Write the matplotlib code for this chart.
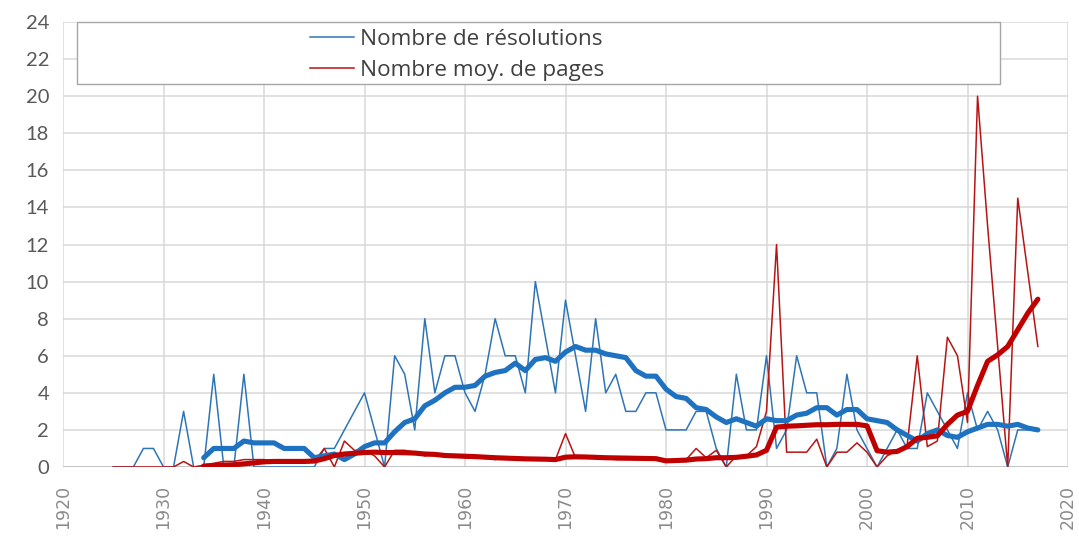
import matplotlib
matplotlib.use("Agg")
import matplotlib.pyplot as plt
from matplotlib.patches import Rectangle

# annual values, 1925-2017
years = list(range(1925, 2018))
resolutions = [0, 0, 0, 1, 1, 0, 0, 3, 0, 0,
               5, 0, 0, 5, 0, 0, 0, 0, 0, 0,
               0, 1, 1, 2, 3, 4, 2, 0, 6, 5,
               2, 8, 4, 6, 6, 4, 3, 5, 8, 6,
               6, 4, 10, 7, 4, 9, 6, 3, 8, 4,
               5, 3, 3, 4, 4, 2, 2, 2, 3, 3,
               1, 0, 5, 2, 2, 6, 1, 2, 6, 4,
               4, 0, 1, 5, 2, 1, 0, 1, 2, 1,
               1, 4, 3, 2, 1, 4, 2, 3, 2, 0,
               2, 2, 2]
pages = [0, 0, 0, 0, 0, 0, 0, 0.3, 0, 0.1,
         0.2, 0.3, 0.3, 0.4, 0.4, 0.4, 0.3, 0.3, 0.3, 0.3,
         0.3, 1.0, 0.0, 1.4, 0.9, 0.9, 0.6, 0.0, 0.9, 0.9,
         0.8, 0.6, 0.7, 0.6, 0.6, 0.5, 0.5, 0.5, 0.4, 0.5,
         0.5, 0.4, 0.4, 0.4, 0.4, 1.8, 0.5, 0.5, 0.5, 0.5,
         0.4, 0.4, 0.4, 0.4, 0.5, 0.3, 0.4, 0.4, 1.0, 0.5,
         0.9, 0.0, 0.6, 0.6, 1.1, 3.0, 12.0, 0.8, 0.8, 0.8,
         1.5, 0.0, 0.8, 0.8, 1.3, 0.8, 0.0, 0.6, 0.9, 1.2,
         6.0, 1.1, 1.4, 7.0, 6.0, 2.4, 20.0, 13.0, 6.5, 0.0,
         14.5, 10.5, 6.5]

# 10-year moving average trendlines, 1934-2017
ma_years = list(range(1934, 2018))
resolutions_ma = [0.5, 1.0, 1.0, 1.0, 1.4, 1.3, 1.3, 1.3, 1.0, 1.0,
                  1.0, 0.5, 0.6, 0.7, 0.4, 0.7, 1.1, 1.3, 1.3, 1.9,
                  2.4, 2.6, 3.3, 3.6, 4.0, 4.3, 4.3, 4.4, 4.9, 5.1,
                  5.2, 5.6, 5.2, 5.8, 5.9, 5.7, 6.2, 6.5, 6.3, 6.3,
                  6.1, 6.0, 5.9, 5.2, 4.9, 4.9, 4.2, 3.8, 3.7, 3.2,
                  3.1, 2.7, 2.4, 2.6, 2.4, 2.2, 2.6, 2.5, 2.5, 2.8,
                  2.9, 3.2, 3.2, 2.8, 3.1, 3.1, 2.6, 2.5, 2.4, 2.0,
                  1.7, 1.4, 1.8, 2.0, 1.7, 1.6, 1.9, 2.1, 2.3, 2.3,
                  2.2, 2.3, 2.1, 2.0]
pages_ma = [0.05, 0.08, 0.1, 0.12, 0.17, 0.22, 0.28, 0.3, 0.3, 0.3,
            0.3, 0.32, 0.45, 0.62, 0.7, 0.74, 0.78, 0.8, 0.78, 0.78,
            0.77, 0.75, 0.7, 0.68, 0.62, 0.6, 0.58, 0.56, 0.53, 0.5,
            0.48, 0.46, 0.44, 0.43, 0.42, 0.4, 0.53, 0.55, 0.54, 0.52,
            0.5, 0.49, 0.48, 0.47, 0.46, 0.45, 0.33, 0.35, 0.37, 0.43,
            0.45, 0.5, 0.5, 0.52, 0.58, 0.65, 0.9, 2.15, 2.2, 2.22,
            2.25, 2.28, 2.28, 2.3, 2.3, 2.3, 2.22, 0.88, 0.8, 0.84,
            1.1, 1.55, 1.6, 1.68, 2.3, 2.8, 3.0, 4.4, 5.7, 6.05,
            6.5, 7.4, 8.3, 9.05]

labels = ["Nombre de résolutions", "Nombre moy. de pages"]

blue = "#2e75b6"
blue_thick = "#1f72bf"
red = "#b81414"
red_thick = "#c00000"

fig = plt.figure(figsize=(10.79, 5.37), dpi=100)
ax = fig.add_axes([63 / 1079, 1 - 467 / 537, 1005 / 1079, 445 / 537])

l1, = ax.plot(years, resolutions, color=blue, lw=1.1, zorder=3)
l2, = ax.plot(years, pages, color=red, lw=1.1, zorder=4)
ax.plot(ma_years, resolutions_ma, color=blue_thick, lw=3.7, zorder=5,
        solid_capstyle="round", solid_joinstyle="round")
ax.plot(ma_years, pages_ma, color=red_thick, lw=3.7, zorder=6,
        solid_capstyle="round", solid_joinstyle="round")

ax.set_xlim(1920, 2020)
ax.set_ylim(0, 24)
ax.set_xticks(range(1920, 2021, 10))
ax.set_yticks(range(0, 25, 2))
ax.grid(True, color="#d9d9d9", lw=1.1, zorder=0)
ax.set_axisbelow(True)
for s in ax.spines.values():
    s.set_visible(False)
ax.axhline(0, color="#bfbfbf", lw=1.2, zorder=1)

ax.tick_params(axis="both", length=0)
ax.tick_params(axis="y", pad=10, labelsize=14.5, labelcolor="#595959")
ax.tick_params(axis="x", pad=13, labelsize=12.5, labelcolor="#8a8a8a",
               labelrotation=90)
for t in ax.get_yticklabels():
    t.set_fontfamily("Lato")
for t in ax.get_xticklabels():
    t.set_fontfamily("DejaVu Sans")

# legend box
ax.add_patch(Rectangle((14 / 1005, (467 - 84) / 445), 923 / 1005, 62 / 445,
                       transform=ax.transAxes, facecolor="white",
                       edgecolor="#a6a6a6", lw=1.0, zorder=10, clip_on=False))
leg = ax.legend([l1, l2], labels, loc="upper left",
                bbox_to_anchor=(310 / 1079, 1 - 29 / 537),
                bbox_transform=fig.transFigure, frameon=False,
                borderpad=0, borderaxespad=0, handlelength=1.95,
                handletextpad=0.25, labelspacing=0.45,
                prop={"family": "Open Sans", "size": 16.2})
leg.set_zorder(11)
for t in leg.get_texts():
    t.set_color("#404040")

fig.savefig("out.png", dpi=100)
